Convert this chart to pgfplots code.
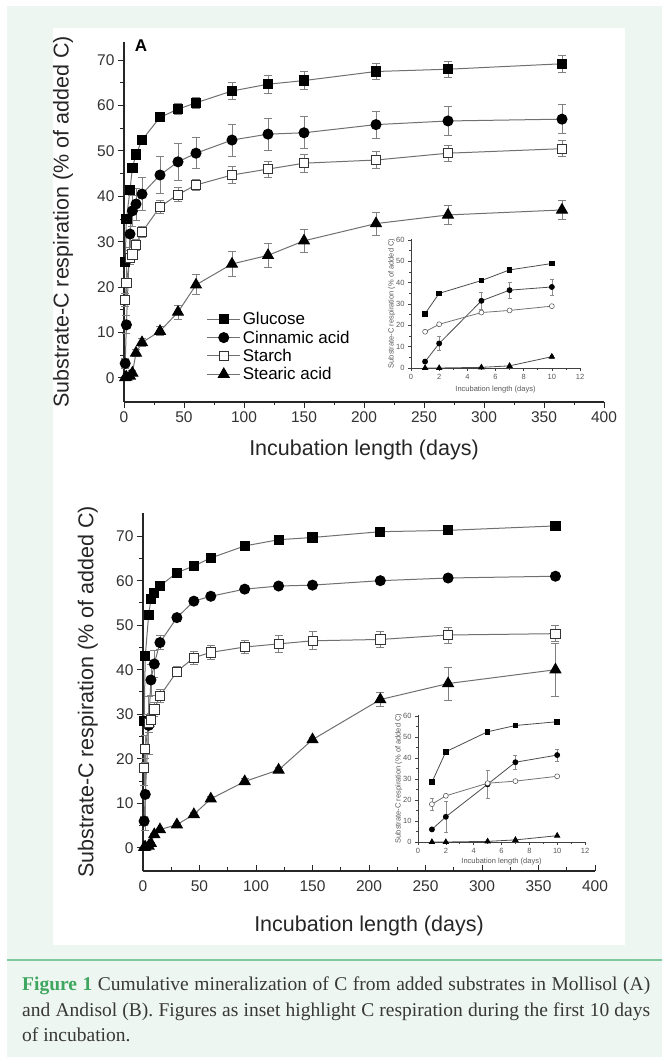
\documentclass[border=0pt]{standalone}
\usepackage{fontspec}
\setmainfont{Liberation Sans}
\newfontfamily\capfont{Liberation Serif}
\usepackage{pgfplots}
\usepackage{pgfplotstable}
\pgfplotsset{compat=1.18}
\definecolor{bgmint}{HTML}{EEF6F1}
\definecolor{rulegreen}{HTML}{7DC99B}
\definecolor{figgreen}{HTML}{3FA65F}
\definecolor{capgray}{HTML}{383838}
\definecolor{ln}{HTML}{707070}

% Mollisol (A), main panel
\pgfplotstableread{
day glc glce cin cine sta stae ste stee
1   25.5 0.8 3.2  1.0 17.2 1.5 0.1  0.2
2   35.0 1.0 11.7 2.0 21.0 4.0 0.2  0.2
5   41.4 1.0 31.7 3.0 26.5 1.5 0.4  0.3
7   46.3 0.8 36.8 3.5 27.2 1.2 1.1  0.5
10  49.2 0.8 38.3 3.5 29.3 1.2 5.5  0.8
15  52.4 0.8 40.5 3.7 32.1 1.2 7.8  0.8
30  57.4 1.0 44.7 4.0 37.7 1.5 10.3 1.0
45  59.2 1.2 47.6 4.0 40.4 1.5 14.5 1.5
60  60.6 1.2 49.5 3.4 42.5 1.3 20.5 2.2
90  63.2 1.9 52.4 3.5 44.7 1.8 25.1 2.7
120 64.7 2.0 53.7 3.5 46.0 1.8 27.0 2.6
150 65.5 2.0 54.0 3.5 47.3 2.0 30.2 2.5
210 67.5 1.8 55.8 3.0 48.0 1.8 34.0 2.5
270 68.0 1.8 56.6 3.2 49.5 1.8 35.9 2.0
365 69.2 1.8 57.0 3.2 50.5 1.8 37.0 2.0
}\tabA
% Mollisol (A), inset
\pgfplotstableread{
day glc cin cine sta ste stee
1  25.5 3.0  1.0 17.0 0.0 0.1
2  35.0 11.5 3.3 20.5 0.0 0.1
5  41.0 31.5 3.9 26.0 0.3 0.2
7  46.0 36.5 3.9 27.0 1.0 0.4
10 49.0 38.0 3.7 29.0 5.3 0.8
}\insA
% Andisol (B), main panel
\pgfplotstableread{
day glc glce cin cine sta stae ste stee
1   28.5 0.5 6.0  1.0 18.0 4.0 0.1  0.1
2   43.0 0.5 12.0 8.0 22.2 3.0 0.2  0.1
5   52.3 0.5 27.5 6.5 28.0 2.0 0.4  0.2
7   55.8 0.5 37.7 3.5 28.7 1.5 1.0  0.3
10  57.3 0.5 41.3 3.0 31.1 1.5 3.0  0.3
15  58.8 0.5 46.1 1.5 34.1 1.5 4.1  0.3
30  61.8 0.5 51.7 0.8 39.6 1.2 5.2  0.3
45  63.3 0.5 55.4 0.6 42.7 1.5 7.5  0.5
60  65.1 0.5 56.5 0.6 43.9 1.5 11.0 0.5
90  67.8 0.5 58.1 0.6 45.1 1.5 14.9 0.6
120 69.2 0.5 58.8 0.6 45.8 2.0 17.5 0.6
150 69.7 0.5 59.0 0.6 46.5 2.0 24.3 0.6
210 71.0 0.5 60.0 0.6 46.8 1.8 33.3 1.5
270 71.3 0.5 60.6 0.6 47.8 1.8 36.9 3.7
365 72.3 0.5 61.0 0.6 48.1 1.8 40.0 6.0
}\tabB
% Andisol (B), inset
\pgfplotstableread{
day glc cin cine sta stae ste
1  28.5 6.0  0.5 18.0 3.0 0.0
2  43.0 12.0 7.5 22.0 0.5 0.0
5  52.5 27.5 6.5 28.0 0.5 0.3
7  55.5 38.0 3.5 29.0 0.5 1.0
10 57.3 41.4 3.0 31.3 0.5 3.0
}\insB

\pgfplotsset{
  big/.style={scale only axis, clip=false,
    axis x line*=bottom, axis y line*=left,
    xmin=0, xmax=400, xtick={0,50,...,400}, minor x tick num=1,
    ytick={0,10,...,70}, minor y tick num=1,
    tick align=outside, major tick length=6pt, minor tick length=3.5pt,
    tick style={black!85, line width=1pt},
    axis line style={black!85, line width=1.4pt},
    tick label style={font=\fontsize{15.5}{16}\selectfont, text=black!80},
    label style={font=\fontsize{21.5}{23}\selectfont, text=black!85},
    /pgf/number format/assume math mode=true,
    xlabel={Incubation length (days)},
    ylabel={Substrate-C respiration (\% of added C)},
  },
  small/.style={scale only axis, clip=false,
    axis x line*=bottom, axis y line*=left,
    xmin=0, xmax=12, ymin=0, ymax=60.5,
    xtick={0,2,...,12}, ytick={0,10,...,60},
    minor x tick num=1, minor y tick num=1,
    tick align=outside, major tick length=3pt, minor tick length=1.8pt,
    tick style={black!75, line width=0.6pt},
    axis line style={black!75, line width=0.7pt},
    tick label style={font=\fontsize{7.5}{8}\selectfont, text=black!65},
    label style={font=\fontsize{7.5}{8}\selectfont, text=black!65},
    /pgf/number format/assume math mode=true,
    xlabel={Incubation length (days)},
    ylabel={Substrate-C respiration (\% of added C)},
    ylabel style={at={(axis description cs:-0.115,0.5)}, anchor=center},
  },
  ebar/.style={error bars/.cd, y dir=both, y explicit,
    error bar style={line width=0.8pt, color=black!50},
    error mark options={rotate=90, mark size=4pt, line width=0.8pt, black!50}},
  ebars/.style={error bars/.cd, y dir=both, y explicit,
    error bar style={line width=0.5pt, color=black!45},
    error mark options={rotate=90, mark size=2pt, line width=0.5pt, black!45}},
  sglc/.style={color=ln, line width=1pt, mark=square*, mark size=4.6pt,
    mark options={solid, draw=black, fill=black}},
  scin/.style={color=ln, line width=1pt, mark=*, mark size=5pt,
    mark options={solid, draw=black, fill=black}},
  ssta/.style={color=ln, line width=1pt, mark=square*, mark size=4.6pt,
    mark options={solid, draw=black!80, fill=white, line width=0.8pt}},
  sste/.style={color=ln, line width=1pt, mark=triangle*, mark size=6.2pt,
    mark options={solid, draw=black, fill=black}},
  iglc/.style={color=black!70, line width=0.8pt, mark=square*, mark size=2.3pt,
    mark options={solid, draw=black, fill=black}},
  icin/.style={color=black!70, line width=0.8pt, mark=*, mark size=2.5pt,
    mark options={solid, draw=black, fill=black}},
  ista/.style={color=black!55, line width=0.8pt, mark=*, mark size=2.5pt,
    mark options={solid, draw=black!70, fill=white, line width=0.5pt}},
  iste/.style={color=black!70, line width=0.8pt, mark=triangle*, mark size=3pt,
    mark options={solid, draw=black, fill=black}},
}

\begin{document}
\begin{tikzpicture}[x=1pt, y=1pt]
\useasboundingbox (0,0) rectangle (662,1057);
\fill[white] (0,0) rectangle (662,1057);
\fill[bgmint] (7,0) rectangle (662,1051);
\fill[white] (53,112) rectangle (625,1029);
\draw[rulegreen, line width=2pt] (7,97) -- (662,97);

% panel A
\begin{axis}[big, at={(124pt,655pt)}, anchor=south west, width=480pt, height=360pt,
  ymin=-5.3, ymax=74,
  xlabel style={at={(axis description cs:0.5,-0.133)}, anchor=center},
  ylabel style={at={(axis description cs:-0.127,0.5)}, anchor=center},
  legend style={at={(0.172,0.255)}, anchor=north west, draw=none, fill=none,
    font=\fontsize{17}{20}\selectfont, inner sep=0pt, row sep=0.5pt},
  legend cell align=left,
  legend image code/.code={\draw[mark repeat=2, mark phase=2]
    plot coordinates {(0pt,0pt) (16.5pt,0pt) (33pt,0pt)};},
]
\addplot[sglc, ebar] table[x=day, y=glc, y error=glce] {\tabA};
\addplot[scin, ebar] table[x=day, y=cin, y error=cine] {\tabA};
\addplot[ssta, ebar] table[x=day, y=sta, y error=stae] {\tabA};
\addplot[sste, ebar] table[x=day, y=ste, y error=stee] {\tabA};
\legend{Glucose, Cinnamic acid, Starch, Stearic acid}
\end{axis}
\node[font=\bfseries\fontsize{17}{17}\selectfont] at (141pt,1011pt) {A};

\begin{axis}[small, at={(411pt,689pt)}, anchor=south west, width=169pt, height=129pt,
  xlabel style={at={(axis description cs:0.5,-0.17)}, anchor=center}]
\addplot[iglc] table[x=day, y=glc] {\insA};
\addplot[icin, ebars] table[x=day, y=cin, y error=cine] {\insA};
\addplot[ista] table[x=day, y=sta] {\insA};
\addplot[iste, ebars] table[x=day, y=ste, y error=stee] {\insA};
\end{axis}

% panel B (x ticks point inwards)
\begin{axis}[big, at={(143pt,186pt)}, anchor=south west, width=452pt, height=358pt,
  ymin=-5.2, ymax=75.2,
  major x tick style={yshift=6pt}, minor x tick style={yshift=3.5pt},
  xlabel style={at={(axis description cs:0.5,-0.154)}, anchor=center},
  ylabel style={at={(axis description cs:-0.122,0.5)}, anchor=center},
]
\addplot[sglc, ebar] table[x=day, y=glc, y error=glce] {\tabB};
\addplot[scin, ebar] table[x=day, y=cin, y error=cine] {\tabB};
\addplot[ssta, ebar] table[x=day, y=sta, y error=stae] {\tabB};
\addplot[sste, ebar] table[x=day, y=ste, y error=stee] {\tabB};
\end{axis}

\begin{axis}[small, at={(418pt,215pt)}, anchor=south west, width=167pt, height=127pt,
  xlabel style={at={(axis description cs:0.5,-0.157)}, anchor=center}]
\addplot[iglc] table[x=day, y=glc] {\insB};
\addplot[icin, ebars] table[x=day, y=cin, y error=cine] {\insB};
\addplot[ista, ebars] table[x=day, y=sta, y error=stae] {\insB};
\addplot[iste] table[x=day, y=ste] {\insB};
\end{axis}

% caption
\node[anchor=base west, inner sep=0pt, font=\capfont\fontsize{19.5}{22}\selectfont, text=capgray]
  at (22pt,66pt) {\makebox[628pt][s]{\textcolor{figgreen}{\bfseries Figure 1} Cumulative mineralization of C from added substrates in Mollisol (A)}};
\node[anchor=base west, inner sep=0pt, font=\capfont\fontsize{19.5}{22}\selectfont, text=capgray]
  at (22pt,40pt) {\makebox[628pt][s]{and Andisol (B). Figures as inset highlight C respiration during the first 10 days}};
\node[anchor=base west, inner sep=0pt, font=\capfont\fontsize{19.5}{22}\selectfont, text=capgray]
  at (22pt,15pt) {of incubation.};
\end{tikzpicture}
\end{document}
